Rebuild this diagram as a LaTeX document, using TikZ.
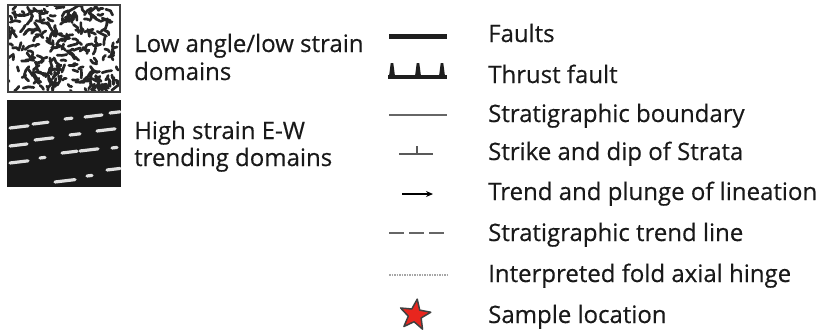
\documentclass[tikz,border=0pt]{standalone}
\usepackage{fontspec}
\setmainfont[FakeBold=0.4]{Open Sans}
\usetikzlibrary{shapes.geometric,arrows.meta,calc}
\definecolor{starred}{RGB}{232,38,30}
\definecolor{darkline}{RGB}{30,30,30}
\tikzset{
  label/.style={anchor=base west, inner sep=0pt, font=\fontsize{24}{27}\selectfont, text=black!90},
  blob/.style={line width=2.7pt, line cap=round, line join=round, draw=black!85},
  streak/.style={line width=3.2pt, line cap=round, draw=white!88!black},
}
\begin{document}
\begin{tikzpicture}[x=1pt,y=-1pt]
\useasboundingbox (0,0) rectangle (827,333);

% --- low strain domain swatch: random worm-like blobs on white
\begin{scope}
  \clip (8,5) rectangle (120,92);
  \fill[white] (8,5) rectangle (120,92);
  \pgfmathsetseed{4}
  \foreach \i in {1,...,230}{
    \pgfmathsetmacro{\px}{8+112*rnd}
    \pgfmathsetmacro{\py}{5+87*rnd}
    \pgfmathsetmacro{\ang}{360*rnd}
    \pgfmathsetmacro{\len}{2+3.5*rnd}
    \pgfmathsetmacro{\bend}{100*rnd-50}
    \draw[blob] (\px,\py) -- ++(\ang:\len) -- ++(\ang+\bend:\len);
  }
\end{scope}
\draw[line width=2.6pt, draw=black!75] (8,5) rectangle (120,92);
\node[label] (lowA) at (134,52) {Low angle/low strain};
\node[label] (lowB) at (134,80) {domains};

% --- high strain domain swatch: E-W streaks on black
\fill[black!90] (7,100) rectangle (121,187);
\begin{scope}
  \clip (7,100) rectangle (121,187);
  \foreach \xa/\xb/\yy in {10/28/127, 33/48/123, 65/72/118, 85/102/116, 110/120/112,
                          10/27/145, 35/53/139, 70/80/134, 97/115/130,
                          10/28/162, 40/45/157, 62/77/152, 80/98/150, 112/117/147,
                          55/75/181, 87/92/175, 107/120/169}{
    \draw[streak] (\xa,\yy+1) -- (\xb,{\yy+1-0.12*(\xb-\xa)});
  }
\end{scope}
\node[label] (highA) at (134,139) {High strain E-W};
\node[label] (highB) at (134,166) {trending domains};

% --- line symbols
\draw[line width=5pt, draw=darkline] (389,36) -- (447,36);
\draw[line width=3.5pt, draw=darkline] (388,77) -- (447,77);
\foreach \tx in {392,418,442}{
  \fill[darkline] (\tx-3.2,78) -- (\tx-1.3,63) -- (\tx+1.3,63) -- (\tx+3.2,78) -- cycle;
}
\draw[line width=1.6pt, draw=black!60] (389,115) -- (447,115);
\draw[line width=1.6pt, draw=black!65] (399,154) -- (433,154);
\draw[line width=1.4pt, draw=black!65] (417,154) -- (417,146);
\draw[line width=1.6pt, draw=black, -{Stealth[length=7pt,width=6pt]}] (402,194) -- (433,194);
\draw[line width=1.8pt, draw=black!60, dash pattern=on 15pt off 5pt] (389,233) -- (445,233);
\draw[line width=1.6pt, draw=black!35, dash pattern=on 1.5pt off 1pt] (389,275) -- (447,275);
\coordinate (sc) at (415,315);
\draw[line width=1.5pt, draw=black!75, fill=starred, line join=round]
  ($(sc)+(62:16)$)
  \foreach \k in {0,...,4}{ -- ($(sc)+(62+72*\k:16)$) -- ($(sc)+(98+72*\k:6.8)$) } -- cycle;

% --- labels
\node[label] (faults) at (488,42) {Faults};
\node[label] (thrust) at (488,83) {Thrust fault};
\node[label] (sbound) at (488,122) {Stratigraphic boundary};
\node[label] (strike) at (488,160) {Strike and dip of Strata};
\node[label] (trend) at (488,200) {Trend and plunge of lineation};
\node[label] (strend) at (488,241) {Stratigraphic trend line};
\node[label] (hinge) at (488,282) {Interpreted fold axial hinge};
\node[label] (sample) at (488,323) {Sample location};
\end{tikzpicture}
\end{document}
